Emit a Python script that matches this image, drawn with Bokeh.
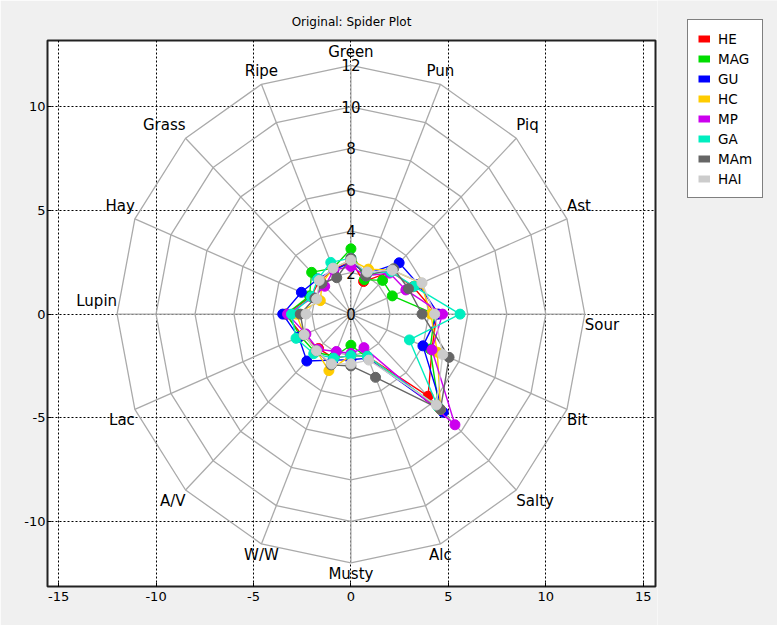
import numpy as np
from bokeh.plotting import figure
from bokeh.layouts import row
from bokeh.models import ColumnDataSource, Legend, LegendItem, Range1d
from bokeh.embed import file_html
from bokeh.resources import INLINE
from bokeh.core.properties import value, field

axis_names = ["Green", "Pun", "Piq", "Ast", "Sour", "Bit", "Salty", "Alc",
              "Musty", "W/W", "A/V", "Lac", "Lupin", "Hay", "Grass", "Ripe"]
series_names = ["HE", "MAG", "GU", "HC", "MP", "GA", "MAm", "HAI"]

HE  = [2.6, 1.7, 2.9, 3.45, 4.4, 4.5, 5.6, 2.2, 2.0, 2.3, 2.35, 2.7, 3.35, 2.2, 2.3, 2.3]
MAG = [3.15, 1.8, 2.3, 2.3, 4.3, 4.4, 6.4, 2.3, 1.5, 2.2, 2.6, 2.8, 3.3, 2.3, 2.85, 2.4]
GU  = [2.5, 2.1, 3.5, 3.75, 4.5, 4.0, 6.7, 2.3, 2.2, 2.4, 3.2, 2.9, 3.5, 2.75, 2.4, 2.3]
HC  = [2.6, 2.35, 3.0, 3.9, 4.1, 4.8, 6.5, 2.2, 2.0, 2.95, 2.5, 2.6, 2.8, 1.7, 2.1, 2.4]
MP  = [2.3, 2.0, 2.8, 3.05, 4.7, 4.5, 7.55, 1.75, 1.9, 1.95, 2.4, 2.5, 3.25, 2.1, 1.9, 2.3]
GA  = [2.7, 2.1, 2.9, 3.5, 5.6, 3.25, 6.3, 2.2, 2.0, 2.3, 2.7, 3.05, 3.05, 2.2, 2.4, 2.7]
MAm = [2.7, 2.0, 3.1, 3.2, 3.65, 5.45, 6.5, 3.3, 2.5, 2.65, 2.5, 2.6, 2.6, 2.0, 2.1, 1.9]
HAI = [2.6, 2.2, 3.0, 3.95, 4.3, 5.1, 6.2, 2.4, 2.4, 2.6, 2.5, 2.6, 2.3, 1.9, 2.3, 2.4]
series_values = [HE, MAG, GU, HC, MP, GA, MAm, HAI]
series_colors = ["#ff0000", "#00dd00", "#0000ff", "#ffcc00", "#cc00ee", "#00eec0", "#666666", "#cccccc"]

ring_levels = [2, 4, 6, 8, 10, 12]
radial_tick_labels = [0, 2, 4, 6, 8, 10, 12]
x_ticks = [-15, -10, -5, 0, 5, 10, 15]
y_ticks = [-10, -5, 0, 5, 10]

FONT = "DejaVu Sans"
BG = "#f0f0f0"
n = len(axis_names)
ang = np.deg2rad(90.0 - 360.0 / n * np.arange(n))
ca, sa = np.cos(ang), np.sin(ang)

fig = figure(width=657, height=625, output_backend="svg", toolbar_location=None,
             x_range=Range1d(-15.57, 15.63), y_range=Range1d(-13.14, 13.2),
             min_border_left=47, min_border_right=2, min_border_top=40, min_border_bottom=39)
fig.border_fill_color = BG
fig.background_fill_color = "white"
fig.outline_line_color = "#222222"
fig.outline_line_width = 2

fig.title.text = "Original: Spider Plot"
fig.title.align = "center"
fig.title.text_font = FONT
fig.title.text_font_size = "12px"
fig.title.text_font_style = "normal"
fig.title.text_color = "black"
fig.title.standoff = 24

for ax in (fig.xaxis, fig.yaxis):
    ax.axis_line_color = None
    ax.major_tick_in = 4
    ax.major_tick_out = 0
    ax.minor_tick_line_color = None
    ax.major_label_text_font = FONT
    ax.major_label_text_font_size = "13px"
    ax.major_label_text_color = "black"
fig.xaxis.major_label_standoff = 5
fig.yaxis.major_label_standoff = 2
fig.xaxis.ticker = x_ticks
fig.yaxis.ticker = y_ticks
fig.xaxis.major_label_overrides = {t: str(t) for t in x_ticks}
fig.yaxis.major_label_overrides = {t: str(t) for t in y_ticks}
fig.xgrid.ticker = x_ticks
fig.ygrid.ticker = y_ticks
for g in (fig.xgrid, fig.ygrid):
    g.grid_line_color = "black"
    g.grid_line_dash = "2 2"
    g.grid_line_width = 1

# rings
ring_xs = [list(r * np.append(ca, ca[0])) for r in ring_levels]
ring_ys = [list(r * np.append(sa, sa[0])) for r in ring_levels]
fig.multi_line(ring_xs, ring_ys, line_color="#aaaaaa", line_width=1.3)
# spokes
rmax = max(ring_levels)
fig.multi_line([[0, rmax * c] for c in ca], [[0, rmax * s] for s in sa],
               line_color="#aaaaaa", line_width=1.3)

# radial tick labels
fig.text(x=[0] * len(radial_tick_labels), y=radial_tick_labels,
         text=[str(v) for v in radial_tick_labels],
         text_align="center", text_baseline="middle",
         text_font=value(FONT), text_font_size="15px", text_color="black")

# category labels
ha = ["center" if abs(c) < 0.5 else ("left" if c > 0 else "right") for c in ca]
va = []
for c, s in zip(ca, sa):
    if s > 1e-9 or (abs(s) <= 1e-9 and c < 0):
        va.append("bottom")
    else:
        va.append("top")
yoff = [-4 if v == "bottom" else 2 for v in va]
lab_src = ColumnDataSource(dict(x=rmax * ca, y=rmax * sa, t=axis_names, ha=ha, va=va, yo=yoff))
fig.text(x="x", y="y", text="t", source=lab_src, text_align=field("ha"), text_baseline=field("va"),
         y_offset=field("yo"), text_font=value(FONT), text_font_size="15px", text_color="black")

# series
for name, vals, col in zip(series_names, series_values, series_colors):
    r = np.array(vals)
    xs = r * ca
    ys = r * sa
    fig.line(np.append(xs, xs[0]), np.append(ys, ys[0]), line_color=col, line_width=1.4)
    fig.scatter(xs, ys, size=10, fill_color=col, line_color=col)

# legend panel (separate canvas to the right of the axes)
leg_fig = figure(width=120, height=625, output_backend="svg", toolbar_location=None,
                 x_range=Range1d(0, 1), y_range=Range1d(0, 1),
                 x_axis_type=None, y_axis_type=None,
                 min_border_left=0, min_border_right=0, min_border_top=0, min_border_bottom=0)
leg_fig.frame_align = False
leg_fig.border_fill_color = BG
leg_fig.background_fill_color = BG
leg_fig.outline_line_color = None
leg_fig.xgrid.visible = False
leg_fig.ygrid.visible = False

legend_items = []
for name, col in zip(series_names, series_colors):
    swatch = leg_fig.line(x=[np.nan], y=[np.nan], line_color=col, line_width=7)
    legend_items.append(LegendItem(label=name, renderers=[swatch]))

legend = Legend(items=legend_items, location=(30, 427))
legend.border_line_color = "black"
legend.border_line_width = 1
legend.background_fill_color = "white"
legend.background_fill_alpha = 1
legend.label_text_font = FONT
legend.label_text_font_size = "13.5px"
legend.label_text_color = "black"
legend.glyph_width = 12
legend.glyph_height = 17
legend.label_height = 17
legend.spacing = 3
legend.padding = 10
legend.label_standoff = 8
legend.margin = 0
leg_fig.add_layout(legend, "center")

p = row(fig, leg_fig, spacing=0)

open("out.html", "w").write(file_html(p, INLINE))
